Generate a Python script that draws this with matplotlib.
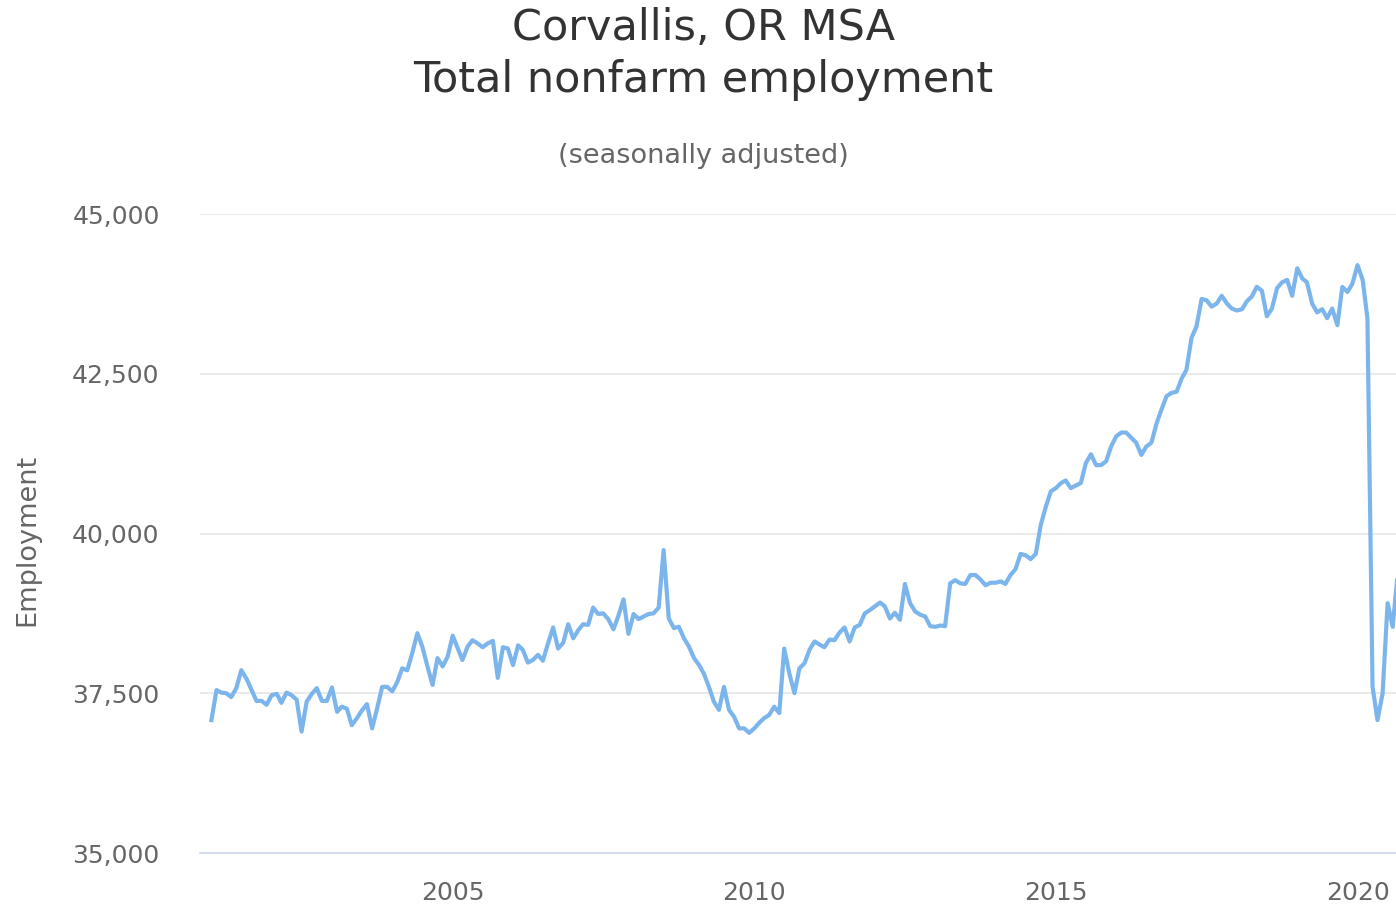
import matplotlib
matplotlib.use("Agg")
from matplotlib import pyplot as plt
import matplotlib.dates as mdates
import matplotlib.ticker as mticker
import pandas as pd

# monthly employment (Jan 2001 onwards)
emp_2001 = [37080, 37550, 37510, 37500, 37440, 37580, 37860, 37730, 37550, 37380, 37380, 37320]
emp_2002 = [37470, 37490, 37350, 37510, 37470, 37400, 36900, 37370, 37490, 37580, 37380, 37380]
emp_2003 = [37590, 37210, 37290, 37260, 37000, 37110, 37230, 37330, 36950, 37260, 37600, 37600]
emp_2004 = [37530, 37680, 37890, 37860, 38130, 38440, 38230, 37920, 37630, 38050, 37920, 38070]
emp_2005 = [38400, 38200, 38020, 38230, 38330, 38280, 38220, 38280, 38320, 37740, 38220, 38200]
emp_2006 = [37940, 38250, 38180, 37980, 38020, 38100, 38010, 38280, 38530, 38200, 38290, 38580]
emp_2007 = [38360, 38490, 38580, 38570, 38840, 38740, 38750, 38660, 38500, 38710, 38970, 38430]
emp_2008 = [38740, 38660, 38700, 38740, 38750, 38840, 39740, 38670, 38520, 38540, 38360, 38230]
emp_2009 = [38050, 37940, 37810, 37600, 37370, 37240, 37600, 37240, 37130, 36950, 36950, 36880]
emp_2010 = [36950, 37040, 37110, 37160, 37290, 37190, 38200, 37810, 37500, 37890, 37970, 38180]
emp_2011 = [38310, 38260, 38220, 38340, 38330, 38450, 38530, 38310, 38530, 38570, 38750, 38800]
emp_2012 = [38860, 38920, 38860, 38670, 38760, 38650, 39210, 38910, 38780, 38730, 38700, 38550]
emp_2013 = [38540, 38560, 38550, 39220, 39270, 39220, 39210, 39350, 39350, 39280, 39190, 39230]
emp_2014 = [39230, 39250, 39210, 39350, 39440, 39680, 39660, 39600, 39680, 40130, 40420, 40660]
emp_2015 = [40710, 40790, 40830, 40710, 40750, 40790, 41100, 41240, 41070, 41070, 41130, 41360]
emp_2016 = [41520, 41580, 41580, 41500, 41420, 41230, 41360, 41420, 41720, 41940, 42150, 42200]
emp_2017 = [42220, 42430, 42560, 43060, 43240, 43670, 43650, 43550, 43600, 43720, 43600, 43520]
emp_2018 = [43490, 43510, 43630, 43710, 43860, 43800, 43400, 43520, 43840, 43930, 43970, 43720]
emp_2019 = [44150, 43990, 43930, 43600, 43460, 43510, 43370, 43520, 43260, 43860, 43780, 43910]
emp_2020 = [44200, 43970, 43370, 37600, 37080, 37500, 38910, 38540, 39400]

values = (emp_2001 + emp_2002 + emp_2003 + emp_2004 + emp_2005 + emp_2006 + emp_2007
          + emp_2008 + emp_2009 + emp_2010 + emp_2011 + emp_2012 + emp_2013 + emp_2014
          + emp_2015 + emp_2016 + emp_2017 + emp_2018 + emp_2019 + emp_2020)
dates = pd.date_range("2001-01-01", periods=len(values), freq="MS")

y_ticks = [35000, 37500, 40000, 42500, 45000]

W, H = 1396, 905
fig = plt.figure(figsize=(W / 100, H / 100), dpi=100)
# plot area: left edge at 200px, runs off the right side of the image
ax = fig.add_axes([200 / W, (H - 853) / H, (W - 200) / W, 639 / H])

ax.plot(dates, values, color="#7cb5ec", lw=3.0, solid_joinstyle="round", zorder=3)

ax.set_ylim(35000, 45000)
ax.set_xlim(pd.Timestamp("2000-10-24"), pd.Timestamp("2020-08-21"))
ax.set_yticks(y_ticks)
ax.yaxis.set_major_formatter(mticker.FuncFormatter(lambda v, p: f"{int(v):,}"))
ax.xaxis.set_major_locator(mdates.YearLocator(5))
ax.xaxis.set_major_formatter(mdates.DateFormatter("%Y"))

ax.grid(axis="y", color="#e6e6e6", lw=1.2)
ax.set_axisbelow(True)
for s in ["top", "right", "left"]:
    ax.spines[s].set_visible(False)
ax.spines["bottom"].set_color("#ccd6eb")
ax.spines["bottom"].set_linewidth(1.2)
ax.tick_params(axis="y", length=0, pad=29, labelsize=18, labelcolor="#666666")
ax.tick_params(axis="x", length=0, pad=20, labelsize=18, labelcolor="#666666")

ax.set_ylabel("Employment", fontsize=19.5, color="#666666")
ax.yaxis.set_label_coords(-(200 - 40) / (W - 200), 0.49)

fig.text(703 / W, 1 - 28 / H, "Corvallis, OR MSA", ha="center", va="center",
         fontsize=31, color="#333333")
fig.text(703 / W, 1 - 80 / H, "Total nonfarm employment", ha="center", va="center",
         fontsize=31, color="#333333")
fig.text(703 / W, 1 - 156 / H, "(seasonally adjusted)", ha="center", va="center",
         fontsize=19.5, color="#666666")

fig.savefig("out.png", dpi=100)
